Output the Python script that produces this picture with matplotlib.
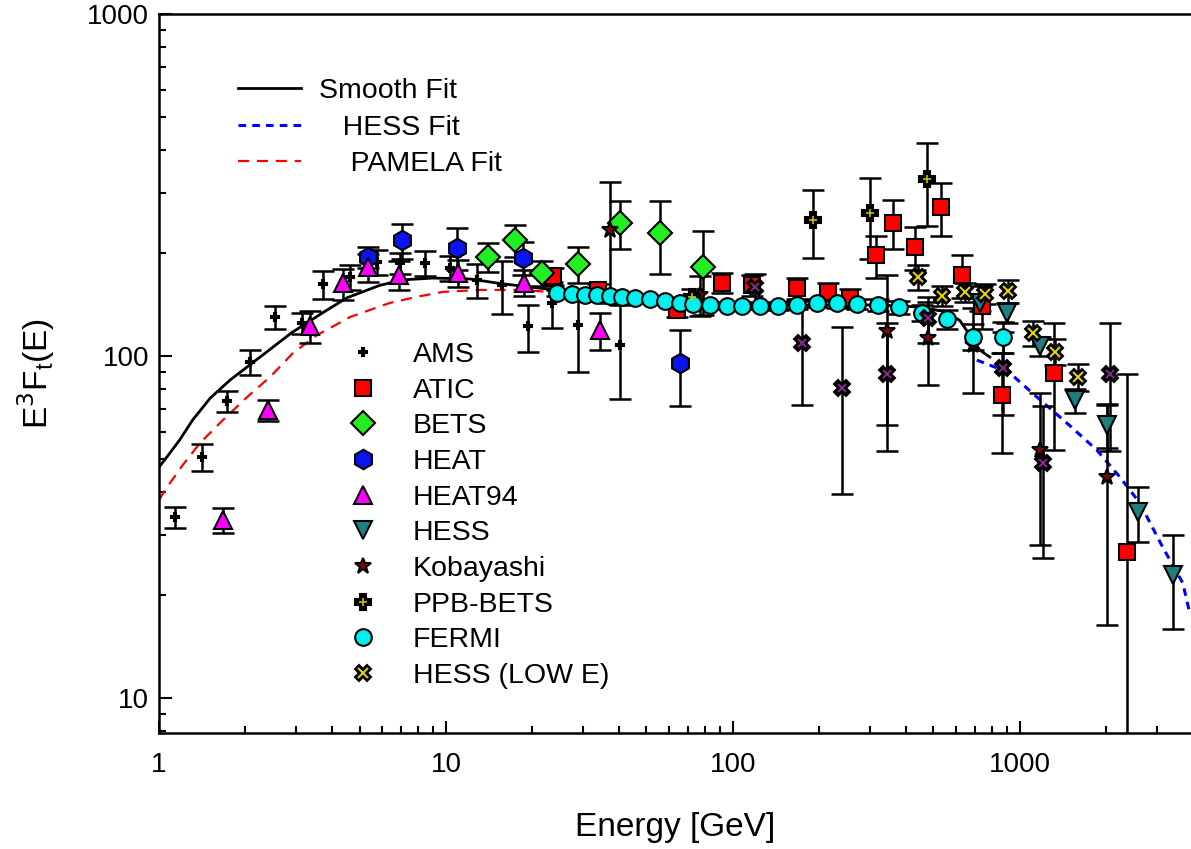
import matplotlib.pyplot as plt
from matplotlib.ticker import FixedLocator, FuncFormatter, LogLocator, NullFormatter

plt.rcParams['font.family'] = ['Liberation Sans', 'DejaVu Sans']
plt.rcParams['xtick.labelsize'] = 20
plt.rcParams['ytick.labelsize'] = 20

# ---- data (energy in GeV, E^3 F values) ----
ams_e = [1.14, 1.41, 1.73, 2.08, 2.54, 3.15, 3.73, 4.63, 5.75, 6.92, 8.45, 10.3, 12.8, 15.7, 19.3, 23.4, 28.8, 40.4]
ams_f = [33.8, 50.7, 73.8, 96.0, 130, 125, 162, 170, 188, 187, 187, 181, 167, 161, 122, 143, 123, 108]
ams_err = [2.3, 4.6, 5.1, 8.0, 9.7, 8.7, 15, 14, 16, 13, 16, 15, 19, 28, 19, 22, 33, 33]

atic_e = [23.6, 33.9, 63.8, 91.5, 117, 167, 214, 256, 315, 361, 430, 531, 628, 738, 865, 1313, 2360]
atic_f = [171, 156, 136, 164, 161, 158, 154, 148, 197, 245, 208, 273, 173, 140, 76.9, 89.2, 26.7]
atic_err = [10, 6, 6, 11, 11, 11, 9, 9, 28, 40, 30, 48, 25, 20, 25, 36, 62]

bets_e = [14.0, 17.4, 21.6, 28.8, 40.4, 55.7, 78.5]
bets_f = [195, 218, 175, 186, 245, 229, 182]
bets_err = [19, 23, 15, 22, 39, 55, 50]

heat_e = [5.35, 7.03, 10.9, 18.5, 65.3]
heat_f = [195, 218, 207, 194, 95.4]
heat_err = [14, 26, 29, 21, 24]

heat94_e = [1.67, 2.40, 3.36, 4.38, 5.35, 6.86, 11.0, 18.7, 34.4]
heat94_f = [33.1, 69.5, 122, 163, 182, 173, 175, 164, 119]
heat94_err = [2.8, 4.8, 13, 17, 17, 17, 16, 14, 15]

hess_e = [726, 901, 1175, 1556, 2010, 2578, 3414]
hess_f = [143, 134, 107, 74.3, 62.9, 35.0, 22.9]
hess_err = [8, 9, 7, 6, 9, 6.5, 7]

koba_e = [37.3, 76.7, 344, 478, 686, 1175, 2010]
koba_f = [233, 151, 118, 113, 108, 53.1, 44.3]
koba_err = [90, 20, 55, 31, 30, 25, 28]

ppb_e = [71.9, 190, 300, 474]
ppb_f = [149, 250, 262, 330]
ppb_err = [8, 56, 70, 90]

fermi_e = [24.4, 27.5, 30.5, 33.6, 37.3, 41.0, 45.6, 51.4, 58.0, 65.3, 72.6, 83.2, 95.3,
           108, 124, 144, 167, 196, 230, 270, 320, 379, 456, 557, 686, 873]
fermi_f = [153, 152, 151, 151, 150, 149, 148, 147, 145, 143, 142, 141, 140,
           140, 140, 140, 141, 143, 143, 142, 141, 139, 134, 128, 114, 114]
fermi_err = [3, 3, 3, 3, 3, 3, 3, 3, 3, 3, 3, 3, 3, 3, 3, 4, 4, 4, 5, 5, 6, 6, 7, 8, 10, 12]

hessl_e = [441, 535, 643, 755, 908, 1109, 1324, 1592]
hessl_f = [170, 150, 154, 152, 155, 117, 103, 86.9]
hessl_err = [14, 10, 10, 10, 12, 10, 9, 8]

# second set of X points (purple centre, not in legend)
xpur_e = [119, 174, 240, 344, 478, 873, 1203, 2060]
xpur_f = [159, 109, 80.6, 88.6, 129, 92.2, 48.6, 88.6]
xpur_err = [15, 37, 41, 36, 20, 25, 23, 36]

smooth_e = [1.0, 1.066, 1.18, 1.31, 1.51, 1.77, 2.25, 2.90, 3.73, 4.52, 5.89, 7.08, 9.01, 12.1,
            15.4, 22.5, 31.8, 51.4, 76.7, 124, 201, 325, 449, 548, 618, 670, 726, 786]
smooth_f = [47.3, 50.7, 56.8, 65.0, 75.4, 85.1, 99.3, 117, 134, 148, 161, 167, 169, 168,
            163, 157, 151, 146, 143, 141, 141, 141, 139, 135, 127, 115, 104, 99.3]

hessfit_e = [708, 923, 1146, 1458, 1855, 2230, 2617, 3148, 3698, 3910]
hessfit_f = [97.3, 89.2, 75.9, 63.7, 53.1, 44.3, 37.2, 27.6, 21.7, 17.7]

pamela_e = [1.0, 1.05, 1.21, 1.39, 1.67, 2.03, 2.44, 2.93, 3.55, 4.63, 6.38, 7.93, 9.77,
            13.1, 18.1, 23.0, 31.8, 40.4, 55.7, 70.8, 90.1]
pamela_f = [37.9, 40.6, 48.0, 55.7, 65.0, 75.9, 86.9, 102, 115, 130, 143, 149, 154,
            156, 156, 154, 152, 151, 149, 147, 144]

fig = plt.figure(figsize=(11.91, 8.49), dpi=100)
ax = fig.add_axes([0.1335, 0.1366, 0.8665, 0.8469])
ax.set_xscale('log')
ax.set_yscale('log')

# fits
l_smooth, = ax.plot(smooth_e, smooth_f, color='black', lw=2.0, zorder=2, label='Smooth Fit')
l_hess, = ax.plot(hessfit_e, hessfit_f, color='#0000ff', lw=2.2, ls=(0, (2.5, 2)), zorder=2,
                  label='   HESS Fit')
l_pam, = ax.plot(pamela_e, pamela_f, color='#ff0000', lw=1.6, ls=(0, (5, 3.5)), zorder=2,
                 label='    PAMELA Fit')


def series(x, y, err, marker, color, size, label, edge='black'):
    ax.errorbar(x, y, yerr=err, fmt='none', ecolor='black', elinewidth=1.8,
                capsize=8, capthick=1.8, zorder=3)
    h, = ax.plot(x, y, ls='none', marker=marker, ms=size, mfc=color, mec=edge,
                 mew=1.5, zorder=4, label=label)
    return h


h_ams = series(ams_e, ams_f, ams_err, 'P', 'black', 6, 'AMS')
h_atic = series(atic_e, atic_f, atic_err, 's', '#ff0000', 12, 'ATIC')
h_bets = series(bets_e, bets_f, bets_err, 'D', '#22ee22', 12, 'BETS')
h_heat = series(heat_e, heat_f, heat_err, 'h', '#0a14f0', 14, 'HEAT')
h_heat94 = series(heat94_e, heat94_f, heat94_err, '^', '#ff00ff', 13, 'HEAT94')
h_hess = series(hess_e, hess_f, hess_err, 'v', '#1f7f80', 13, 'HESS')
h_koba = series(koba_e, koba_f, koba_err, '*', '#7a0a0a', 12, 'Kobayashi')
h_ppb = series(ppb_e, ppb_f, ppb_err, 'P', 'black', 11, 'PPB-BETS')
h_ppb_c, = ax.plot(ppb_e, ppb_f, ls='none', marker='+', ms=6, mec='#c8c000', mew=1.2, zorder=5)
h_fermi = series(fermi_e, fermi_f, fermi_err, 'o', '#00f0f0', 12, 'FERMI')
h_hessl = series(hessl_e, hessl_f, hessl_err, 'X', 'black', 12, 'HESS (LOW E)')
h_hessl_c, = ax.plot(hessl_e, hessl_f, ls='none', marker='x', ms=7, mec='#e8d800', mew=1.4, zorder=5)
series(xpur_e, xpur_f, xpur_err, 'X', 'black', 12, None)
ax.plot(xpur_e, xpur_f, ls='none', marker='x', ms=6, mec='#8a2a8a', mew=1.4, zorder=5)

ax.set_xlim(1, 3950)
ax.set_ylim(7.9, 1000)

ax.xaxis.set_major_locator(FixedLocator([1, 10, 100, 1000]))
ax.xaxis.set_minor_locator(LogLocator(base=10, subs=range(2, 10)))
ax.yaxis.set_major_locator(FixedLocator([10, 100, 1000]))
ax.yaxis.set_minor_locator(LogLocator(base=10, subs=range(2, 10)))
fmt = FuncFormatter(lambda v, p: '%d' % round(v))
ax.xaxis.set_major_formatter(fmt)
ax.yaxis.set_major_formatter(fmt)
ax.xaxis.set_minor_formatter(NullFormatter())
ax.yaxis.set_minor_formatter(NullFormatter())

ax.tick_params(which='both', direction='in', top=False, right=False, width=1.5)
ax.tick_params(which='major', length=9)
ax.tick_params(which='minor', length=5)
ax.tick_params(axis='x', which='major', pad=14)
ax.tick_params(axis='y', which='major', pad=7)
for s in ['left', 'bottom', 'top']:
    ax.spines[s].set_linewidth(1.8)
ax.spines['right'].set_visible(False)

ax.set_xlabel('Energy [GeV]', fontsize=24, labelpad=24)
ax.set_ylabel(r'E$^3$F$_\mathregular{t}$(E)', fontsize=24, labelpad=22)

leg1 = ax.legend(handles=[l_smooth, l_hess, l_pam], loc='upper left',
                 bbox_to_anchor=(0.0766, 0.911), frameon=False, fontsize=20.5,
                 handlelength=2.2, handletextpad=0.63, labelspacing=0.37,
                 borderpad=0, borderaxespad=0)
ax.add_artist(leg1)
ax.legend([h_ams, h_atic, h_bets, h_heat, h_heat94, h_hess, h_koba,
           (h_ppb, h_ppb_c), h_fermi, (h_hessl, h_hessl_c)],
          ['AMS', 'ATIC', 'BETS', 'HEAT', 'HEAT94', 'HESS', 'Kobayashi',
           'PPB-BETS', 'FERMI', 'HESS (LOW E)'],
          loc='upper left', bbox_to_anchor=(0.181, 0.544), frameon=False, fontsize=20.5,
          handlelength=1.2, handletextpad=1.16, labelspacing=0.34,
          borderpad=0, borderaxespad=0)

fig.savefig('out.png', dpi=100)
